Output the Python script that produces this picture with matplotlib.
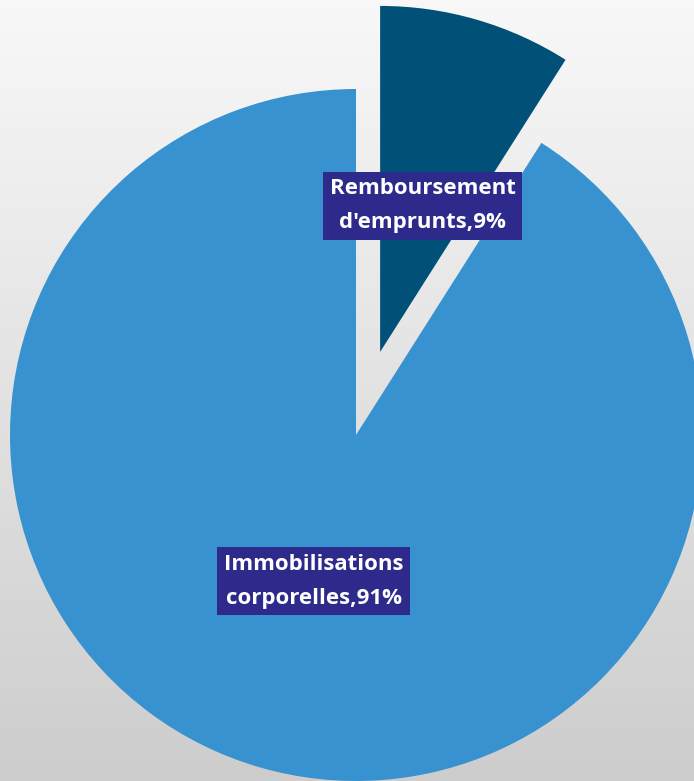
import numpy as np
import matplotlib.pyplot as plt
from matplotlib.colors import LinearSegmentedColormap

labels = ["Remboursement\nd'emprunts,9%", "Immobilisations\ncorporelles,91%"]
shares = [9, 91]
colors = ["#005077", "#3792CF"]
explode = [0.25, 0]

plt.rcParams["hatch.color"] = "#3B3A9E"
plt.rcParams["hatch.linewidth"] = 1.2

fig = plt.figure(figsize=(6.94, 7.81), dpi=100)

# background gradient (light top, grey bottom)
bg = fig.add_axes([0, 0, 1, 1], zorder=0)
grad = np.linspace(0, 1, 256).reshape(-1, 1)
bg.imshow(grad, aspect="auto",
          cmap=LinearSegmentedColormap.from_list("bg", ["#F8F8F8", "#CDCDCD"]),
          extent=[0, 1, 0, 1], origin="upper")
bg.axis("off")

ax = fig.add_axes([0, 0, 1, 1], zorder=1)
ax.patch.set_alpha(0)

wedges, texts = ax.pie(
    shares,
    labels=labels,
    colors=colors,
    explode=explode,
    startangle=90,
    counterclock=False,
    radius=1.0,
    labeldistance=0.44,
    wedgeprops=dict(linewidth=0),
)

for t in texts:
    t.set_ha("center")
    t.set_va("center")
    t.set_color("white")
    t.set_fontsize(16)
    t.set_fontweight("bold")
    t.set_family(["Open Sans", "DejaVu Sans"])
    t.set_linespacing(1.8)
    t.set_bbox(dict(boxstyle="square,pad=0.3", facecolor="#2E2A8C",
                    edgecolor="none", hatch=".."))

ax.set_aspect("equal")
ax.set_xlim(-356 / 346, (694 - 356) / 346)
ax.set_ylim(-346 / 346, (781 - 346) / 346)
ax.axis("off")

fig.savefig("out.png", dpi=100)
